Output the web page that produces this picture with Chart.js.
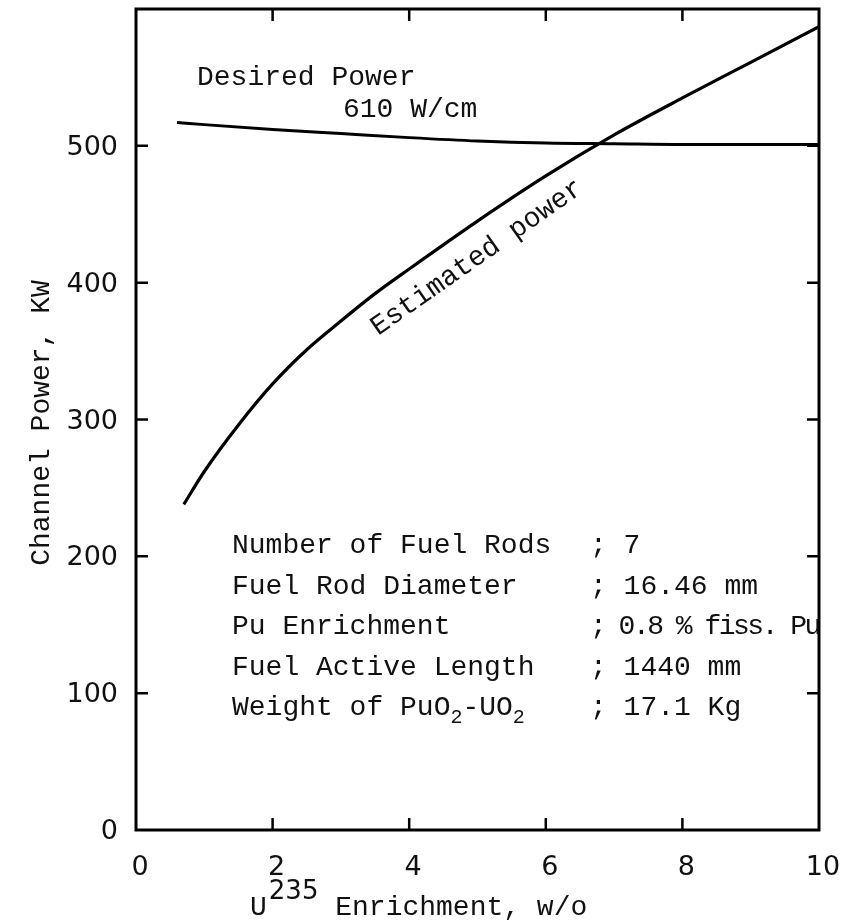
<!DOCTYPE html>
<html>
<head>
<meta charset="utf-8">
<script src="https://cdn.jsdelivr.net/npm/chart.js@4.4.1/dist/chart.umd.min.js"></script>
<style>
  html, body { margin: 0; padding: 0; background: #fff; }
  canvas { display: block; }
</style>
</head>
<body>
<canvas id="grafico" width="843" height="922"></canvas>
<script>
// Datos
const enrichment = [0.7, 1, 1.5, 2, 2.5, 3, 3.5, 4, 5, 6, 7, 8, 9, 10];
const estimatedPower = [238, 262, 296, 326, 351, 372, 392, 410, 445, 478, 508, 535, 561, 587];
const desiredX = [0.6, 1, 2, 3, 4, 5, 6, 7, 8, 9, 10];
const desiredPower = [517, 515.5, 512, 509, 506, 503.5, 502, 501.5, 501, 501, 501];

const xTicks = [0, 2, 4, 6, 8, 10];
const yTicks = [0, 100, 200, 300, 400, 500];

const infoLabels = ['Number of Fuel Rods', 'Fuel Rod Diameter', 'Pu Enrichment', 'Fuel Active Length', 'Weight of PuO'];
const infoValues = ['; 7', '; 16.46 mm', '; 0.8 % fiss. Pu', '; 1440 mm', '; 17.1 Kg'];

const MONO = '"Liberation Mono", "DejaVu Sans Mono", monospace';
const NUM = '"DejaVu Sans", sans-serif';

// Ticks hacia adentro, etiquetas, marco y textos
const decoracion = {
    id: 'decoracion',
    afterDraw(chart) {
        const ctx = chart.ctx;
        const a = chart.chartArea;
        const sx = chart.scales.x;
        const sy = chart.scales.y;
        ctx.save();
        ctx.strokeStyle = '#000';
        ctx.lineWidth = 3;
        ctx.strokeRect(a.left, a.top, a.right - a.left, a.bottom - a.top);

        ctx.lineWidth = 2.5;
        const len = 12;
        xTicks.slice(1, -1).forEach(v => {
            const px = sx.getPixelForValue(v);
            ctx.beginPath();
            ctx.moveTo(px, a.bottom); ctx.lineTo(px, a.bottom - len);
            ctx.moveTo(px, a.top); ctx.lineTo(px, a.top + len);
            ctx.stroke();
        });
        yTicks.slice(1).forEach(v => {
            const py = sy.getPixelForValue(v);
            ctx.beginPath();
            ctx.moveTo(a.left, py); ctx.lineTo(a.left + len, py);
            ctx.moveTo(a.right, py); ctx.lineTo(a.right - len, py);
            ctx.stroke();
        });

        // etiquetas de los ejes
        ctx.fillStyle = '#111';
        ctx.font = '27px ' + NUM;
        ctx.textBaseline = 'middle';
        ctx.textAlign = 'right';
        yTicks.forEach(v => ctx.fillText(String(v), a.left - 18, sy.getPixelForValue(v) + 2));
        ctx.textAlign = 'center';
        xTicks.forEach(v => ctx.fillText(String(v), sx.getPixelForValue(v) + 4, a.bottom + 38));

        ctx.textBaseline = 'alphabetic';
        ctx.textAlign = 'left';
        ctx.font = '28px ' + MONO;
        ctx.fillText('Desired Power', 197, 85);
        ctx.fillText('610 W/cm', 343, 117);

        // etiqueta girada bajo la curva
        ctx.save();
        ctx.translate(378, 336);
        ctx.rotate(-35 * Math.PI / 180);
        ctx.fillText('Estimated power', 0, 0);
        ctx.restore();

        // bloque de datos
        const x0 = 232, xv = 590;
        infoLabels.forEach((t, i) => {
            const yb = 553 + i * 40.5;
            ctx.font = '28px ' + MONO;
            ctx.fillText(t, x0, yb);
            if (i === 4) {
                let x = x0 + ctx.measureText(t).width;
                ctx.font = '20px ' + MONO;
                ctx.fillText('2', x, yb + 8);
                x += ctx.measureText('2').width;
                ctx.font = '28px ' + MONO;
                ctx.fillText('-UO', x, yb);
                x += ctx.measureText('-UO').width;
                ctx.font = '20px ' + MONO;
                ctx.fillText('2', x, yb + 8);
            }
            ctx.font = '28px ' + MONO;
            ctx.save();
            ctx.beginPath();
            ctx.rect(0, 0, a.right - 1, chart.height);
            ctx.clip();
            if (i === 2) ctx.letterSpacing = '-2.5px';
            ctx.fillText(infoValues[i], xv, yb);
            ctx.restore();
        });

        // titulo eje y
        ctx.save();
        ctx.translate(42, 423);
        ctx.rotate(-Math.PI / 2);
        ctx.textAlign = 'center';
        ctx.textBaseline = 'middle';
        ctx.font = '28px ' + MONO;
        ctx.fillText('Channel Power, KW', 0, 0);
        ctx.restore();

        // titulo eje x con superindice
        let x = 250;
        const yb = 915;
        ctx.font = '28px ' + MONO;
        ctx.fillText('U', x, yb);
        x += ctx.measureText('U').width + 2;
        ctx.font = '26px ' + NUM;
        ctx.fillText('235', x, yb - 16);
        x += ctx.measureText('235').width;
        ctx.font = '28px ' + MONO;
        ctx.fillText(' Enrichment, w/o', x, yb);
        ctx.restore();
    }
};

new Chart(document.getElementById('grafico'), {
    type: 'line',
    data: {
        datasets: [{
            label: 'Estimated power',
            data: enrichment.map((x, i) => ({ x: x, y: estimatedPower[i] })),
            borderColor: '#000',
            borderWidth: 3.2,
            pointRadius: 0,
            cubicInterpolationMode: 'monotone',
            fill: false
        }, {
            label: 'Desired Power 610 W/cm',
            data: desiredX.map((x, i) => ({ x: x, y: desiredPower[i] })),
            borderColor: '#000',
            borderWidth: 3,
            pointRadius: 0,
            cubicInterpolationMode: 'monotone',
            fill: false
        }]
    },
    options: {
        responsive: false,
        animation: false,
        layout: { padding: { top: 9, right: 24, left: 0, bottom: 0 } },
        plugins: {
            legend: { display: false },
            tooltip: { enabled: false }
        },
        scales: {
            x: {
                type: 'linear',
                min: 0,
                max: 10,
                afterFit: s => { s.height = 92; },
                grid: { display: false, drawTicks: false },
                border: { display: false },
                ticks: { display: false }
            },
            y: {
                min: 0,
                max: 600,
                afterFit: s => { s.width = 136; },
                grid: { display: false, drawTicks: false },
                border: { display: false },
                ticks: { display: false }
            }
        }
    },
    plugins: [decoracion]
});
</script>
</body>
</html>
